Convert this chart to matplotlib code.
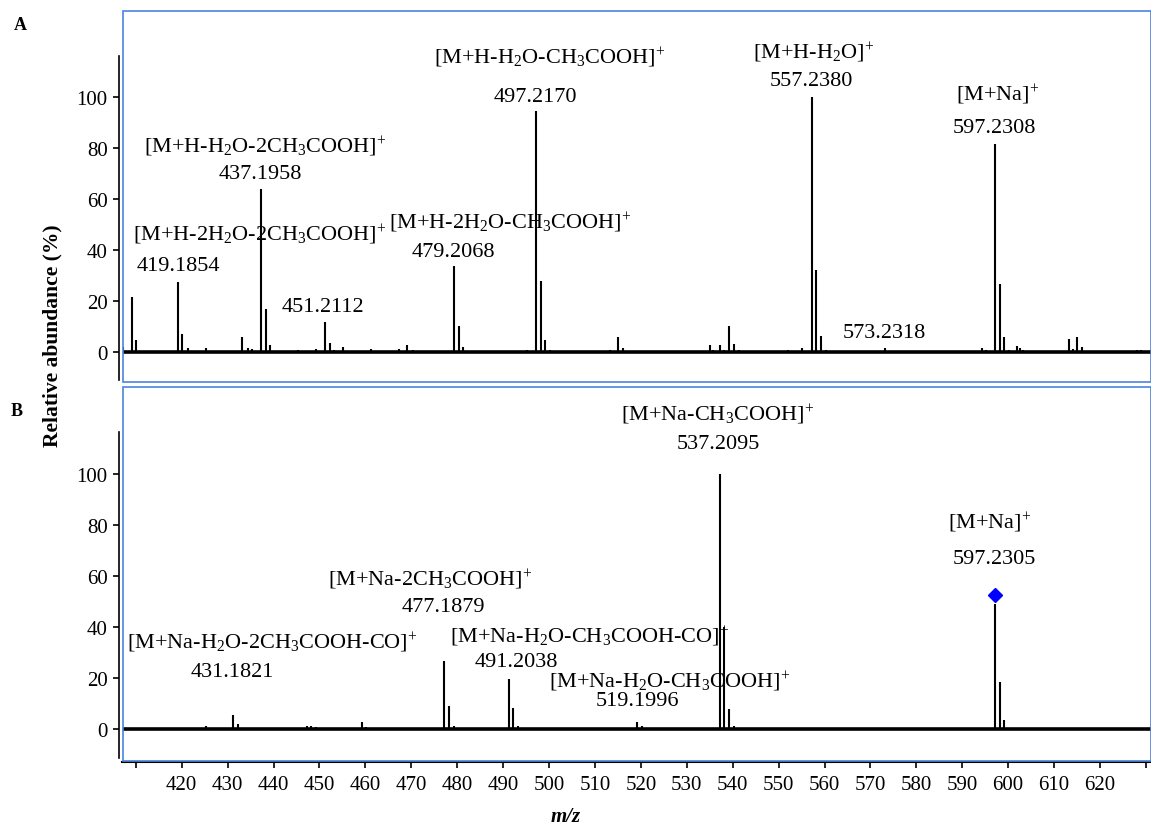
import matplotlib
matplotlib.use('Agg')
import matplotlib.pyplot as plt
from matplotlib.patches import Rectangle
import numpy as np

plt.rcParams['font.family'] = ['Liberation Serif', 'DejaVu Serif']
plt.rcParams['mathtext.fontset'] = 'custom'
plt.rcParams['mathtext.rm'] = 'Liberation Serif'
plt.rcParams['mathtext.it'] = 'Liberation Serif:italic'
plt.rcParams['mathtext.bf'] = 'Liberation Serif:bold'

# panel A: MS spectrum
mz_a = [407.3, 409.2, 410.0, 419.19, 420.0, 421.4, 425.3, 433.1, 434.5, 435.4,
        437.20, 438.4, 439.2, 445.3, 449.3, 451.21, 452.3, 453.2, 455.1, 461.2,
        467.3, 469.0, 470.3, 479.21, 480.3, 481.3, 495.2, 497.22, 498.2, 499.2,
        500.3, 513.3, 515.1, 516.1, 535.1, 535.8, 537.3, 538.0, 539.1, 540.3,
        541.3, 552.0, 555.1, 557.24, 558.2, 559.2, 560.3, 573.23, 594.4, 595.2,
        597.23, 598.2, 599.2, 600.2, 601.9, 602.6, 603.3, 613.3, 614.2, 615.0,
        616.1, 628.1, 628.9]
ab_a = [1.8, 21.5, 4.8, 27.3, 7.0, 1.5, 1.5, 5.9, 1.5, 1.0,
        64.0, 17.0, 2.7, 0.8, 1.0, 11.7, 3.4, 0.8, 1.8, 1.2,
        1.2, 2.6, 0.6, 33.6, 10.0, 1.8, 0.6, 94.4, 28.0, 4.7,
        0.6, 0.6, 5.9, 1.5, 2.6, 0.6, 2.6, 0.6, 10.0, 3.0,
        0.6, 0.6, 1.5, 100.0, 32.0, 6.2, 0.6, 1.5, 1.5, 0.7,
        81.5, 26.7, 5.8, 0.6, 2.5, 1.7, 0.8, 5.1, 1.2, 5.7,
        1.8, 0.6, 0.6]

# panel B: MS/MS spectrum of [M+Na]+
mz_b = [425.2, 431.18, 432.2, 447.2, 448.2, 449.2, 459.2, 460.2, 477.19, 478.2,
        479.2, 491.20, 492.2, 493.2, 519.2, 520.2, 537.21, 538.2, 539.2, 540.2,
        597.23, 598.2, 599.2]
ab_b = [1.0, 5.5, 2.0, 1.0, 1.0, 0.8, 2.7, 0.8, 26.5, 8.9,
        1.3, 19.5, 8.1, 1.0, 2.9, 1.3, 100.0, 40.0, 8.0, 1.0,
        49.0, 18.3, 3.7]
precursor_mz = 597.23
precursor_y = 52.7

P = r'$]^{\!+}$'  # closing bracket with charge

labels_a = [
    (r'[M+H-H$_2$O-2CH$_3$COOH' + P, 438.2, 80.8),
    ('437.1958', 437.1, 70.2),
    (r'[M+H-2H$_2$O-2CH$_3$COOH' + P, 437.1, 46.3),
    ('419.1854', 419.2, 34.1),
    ('451.2112', 450.8, 18.0),
    (r'[M+H-2H$_2$O-CH$_3$COOH' + P, 491.5, 51.0),
    ('479.2068', 479.1, 39.6),
    (r'[M+H-H$_2$O-CH$_3$COOH' + P, 500.2, 115.7),
    ('497.2170', 497.0, 100.4),
    (r'[M+H-H$_2$O' + P, 557.6, 117.6),
    ('557.2380', 557.1, 106.3),
    ('[M+Na' + P, 597.8, 101.2),
    ('597.2308', 597.0, 88.2),
    ('573.2318', 573.0, 7.8),
]
labels_b = [
    (r'[M+Na-CH$_3$COOH' + P, 536.7, 123.5),
    ('537.2095', 536.9, 111.8),
    (r'[M+Na-2CH$_3$COOH' + P, 474.1, 58.8),
    ('477.1879', 476.9, 48.2),
    (r'[M+Na-H$_2$O-2CH$_3$COOH-CO' + P, 439.7, 34.1),
    ('431.1821', 431.0, 22.4),
    (r'[M+Na-H$_2$O-CH$_3$COOH-CO' + P, 509.0, 36.5),
    ('491.2038', 492.8, 26.3),
    (r'[M+Na-H$_2$O-CH$_3$COOH' + P, 526.2, 18.8),
    ('519.1996', 519.2, 11.0),
    ('[M+Na' + P, 596.1, 81.2),
    ('597.2305', 597.0, 66.7),
]

W, H = 1151, 828
fig = plt.figure(figsize=(W / 100, H / 100), dpi=100)

def fx(px):
    return px / W

def fy(py):
    return 1 - py / H

blue = '#4a84dc'
xlim = (407.1, 631.0)

def make_panel(top, bottom, ylim):
    ax = fig.add_axes([fx(122.5), fy(bottom), fx(1150.5) - fx(122.5), fy(top) - fy(bottom)])
    ax.set_xlim(*xlim)
    ax.set_ylim(*ylim)
    ax.patch.set_visible(False)
    for s in ['top', 'right', 'bottom']:
        ax.spines[s].set_visible(False)
    ax.spines['left'].set_position(('outward', 2.3))
    ax.spines['left'].set_linewidth(1.2)
    ax.set_yticks([0, 20, 40, 60, 80, 100])
    ax.tick_params(axis='y', direction='out', length=4, width=1.2, labelsize=15, pad=4.5)
    ax.tick_params(axis='x', bottom=False, labelbottom=False)
    return ax

def draw_spectrum(ax, mz, ab):
    ax.axhline(0, color='k', lw=2.6, zorder=2)
    ax.vlines(mz, 0, ab, color='k', lw=1.5, zorder=3)

ax1 = make_panel(57, 381, (-11.0, 116.1))
draw_spectrum(ax1, mz_a, ab_a)
for txt, x, y in labels_a:
    ax1.text(x, y, txt, ha='center', va='center', fontsize=16)

ax2 = make_panel(433, 759, (-11.4, 116.5))
draw_spectrum(ax2, mz_b, ab_b)
ax2.plot([precursor_mz], [precursor_y], marker='D', color='#0000ff', markersize=7, ls='none', zorder=4)
for txt, x, y in labels_b:
    ax2.text(x, y, txt, ha='center', va='center', fontsize=16)

ax2.spines['bottom'].set_visible(True)
ax2.spines['bottom'].set_position(('outward', 3.2))
ax2.spines['bottom'].set_linewidth(1.5)
ticks = np.arange(410, 631, 10)
ax2.set_xticks(ticks)
ax2.set_xticklabels(['' if t in (410, 630) else str(t) for t in ticks])
ax2.tick_params(axis='x', bottom=True, labelbottom=True, direction='out',
                length=4, width=1.2, labelsize=15, pad=5)
ax2.set_xlim(*xlim)

# blue frames around each panel
for top, bottom in [(12, 383), (388, 762)]:
    fig.add_artist(Rectangle((fx(122.5), fy(bottom)), fx(1150.5) - fx(122.5), fy(top) - fy(bottom),
                             transform=fig.transFigure, fill=False, ec=blue, lw=1.2))

fig.text(fx(20), fy(25), 'A', fontsize=13, fontweight='bold', ha='center', va='center')
fig.text(fx(17), fy(412), 'B', fontsize=13, fontweight='bold', ha='center', va='center')
fig.text(fx(52), fy(336), 'Relative abundance (%)', rotation=90, fontsize=15.5,
         fontweight='bold', ha='center', va='center')
fig.text(fx(566), fy(817), 'm/z', fontsize=15, fontweight='bold', style='italic',
         ha='center', va='center')

fig.savefig('out.png', dpi=100)
